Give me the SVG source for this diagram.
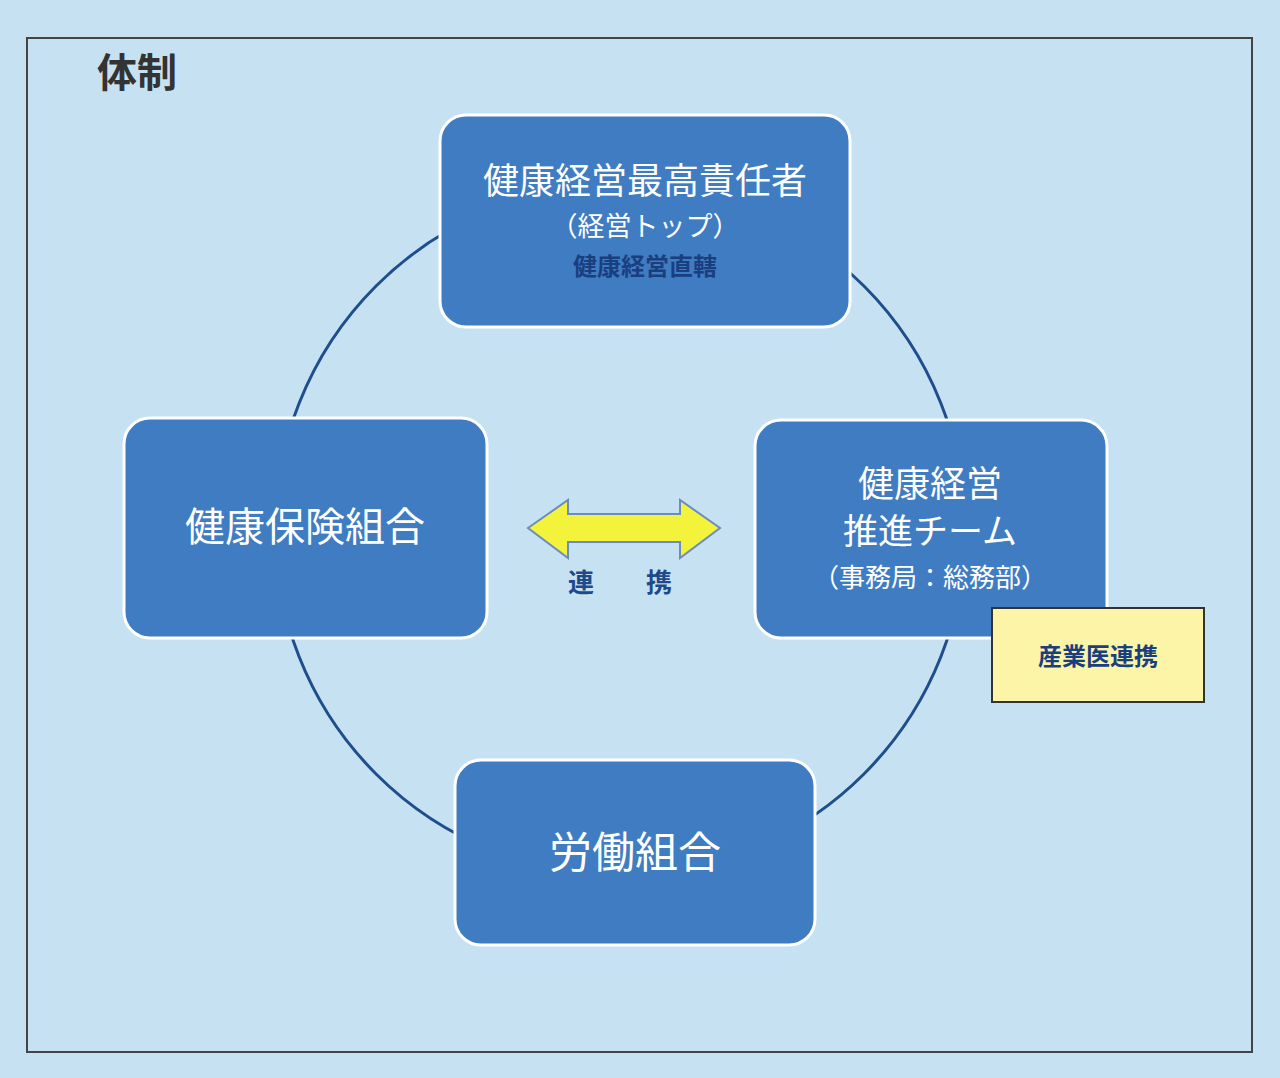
<svg xmlns="http://www.w3.org/2000/svg" width="1280" height="1078" viewBox="0 0 1280 1078">
<style>
.box{fill:#3f7cc2;stroke:#ffffff;stroke-width:3}
.w{fill:#ffffff;font-family:"Noto Sans CJK JP",sans-serif;text-anchor:middle}
.b{fill:#1f4a8a;font-family:"Noto Sans CJK JP",sans-serif;text-anchor:middle;font-weight:bold}
</style>
<rect width="1280" height="1078" fill="#c6e2f2"/>
<rect x="27" y="38" width="1225" height="1014" fill="none" stroke="#444" stroke-width="2"/>
<text x="97" y="87" font-family="Noto Sans CJK JP,sans-serif" font-size="40" font-weight="bold" fill="#333">体制</text>
<g id="connectors">
<circle cx="620" cy="530" r="345" fill="none" stroke="#1f4e8c" stroke-width="3"/>
<path d="M528,528 L568,500 L568,514 L680,514 L680,500 L720,528 L680,558 L680,542 L568,542 L568,558 Z" fill="#f3f33c" stroke="#6a8cc0" stroke-width="2"/>
<text x="620" y="592" class="b" font-size="26" xml:space="preserve">連　　携</text>
</g>
<g id="top"><rect class="box" x="440" y="115" width="410" height="212" rx="26"/>
<text class="w" x="645" y="194" font-size="36">健康経営最高責任者</text>
<text class="w" x="645" y="236" font-size="27">（経営トップ）</text>
<text class="b" x="645" y="275" font-size="24" style="fill:#1a3f80">健康経営直轄</text></g>
<g id="left"><rect class="box" x="124" y="418" width="363" height="220" rx="26"/>
<text class="w" x="305" y="541" font-size="40">健康保険組合</text></g>
<g id="right"><rect class="box" x="755" y="420" width="352" height="218" rx="26"/>
<text class="w" x="930" y="497" font-size="36">健康経営</text>
<text class="w" x="930" y="544" font-size="35">推進チーム</text>
<text class="w" x="930" y="587" font-size="26">（事務局：総務部）</text></g>
<g id="sangyoui"><rect x="992" y="608" width="212" height="94" fill="#fcf4a6" stroke="#333" stroke-width="2"/>
<text class="b" x="1098" y="665" font-size="24" style="fill:#1a3f80">産業医連携</text></g>
<g id="bottom"><rect class="box" x="455" y="760" width="360" height="185" rx="26"/>
<text class="w" x="635" y="868" font-size="43">労働組合</text></g>
</svg>
